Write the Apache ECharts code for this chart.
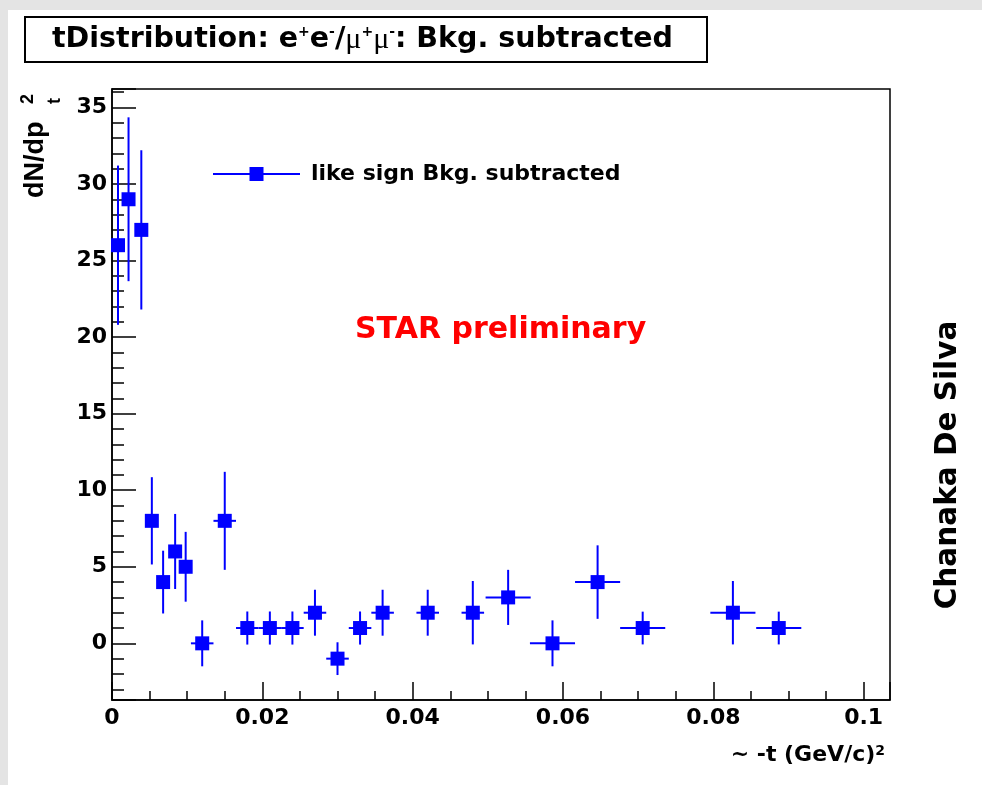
<!DOCTYPE html>
<html><head><meta charset="utf-8">
<script src="https://cdn.jsdelivr.net/npm/echarts@6/dist/echarts.min.js"></script>
<style>html,body{margin:0;padding:0;background:#fff}#c{width:982px;height:785px}</style>
</head><body><div id="c"></div>
<script>
// -t bin centres (GeV/c)^2
const tCenter = [0.0008, 0.0022, 0.0039, 0.0053, 0.0068, 0.0084, 0.0098, 0.012, 0.015, 0.018, 0.021, 0.024,
                 0.027, 0.030, 0.033, 0.036, 0.042, 0.048, 0.0527, 0.0586, 0.0646, 0.0706, 0.0826, 0.0887];
// half bin widths
const tHalfWidth = [0.00075, 0.00075, 0.00075, 0.00075, 0.00075, 0.00075, 0.00075, 0.0015, 0.0015, 0.0015, 0.0015, 0.0015,
                    0.0015, 0.0015, 0.0015, 0.0015, 0.0015, 0.0015, 0.003, 0.003, 0.003, 0.003, 0.003, 0.003];
// dN/dpt^2 values and errors
const dNdpt2 = [26, 29, 27, 8, 4, 6, 5, 0, 8, 1, 1, 1, 2, -1, 1, 2, 2, 2, 3, 0, 4, 1, 2, 1];
const dNdpt2Err = [5.2, 5.35, 5.2, 2.85, 2.05, 2.45, 2.28, 1.5, 3.2, 1.08, 1.08, 1.08, 1.5, 1.07, 1.08, 1.5,
                   1.5, 2.07, 1.8, 1.5, 2.4, 1.07, 2.07, 1.07];
const seriesName = 'like sign Bkg. subtracted';
const xRange = [0, 0.1035];
const yRange = [-3.7, 36.2];

const BLUE = '#0000ff';
const FONT = 'DejaVu Sans';
const chart = echarts.init(document.getElementById('c'), null, {renderer: 'canvas'});

const pointData = tCenter.map((t, i) => [t, dNdpt2[i]]);
const errData = tCenter.map((t, i) => [t, dNdpt2[i], dNdpt2Err[i], tHalfWidth[i]]);

const axisCommon = {
  axisLine: {show: true, onZero: false, lineStyle: {color: '#000', width: 1.5}},
  splitLine: {show: false},
  axisLabel: {color: '#000', fontFamily: FONT, fontWeight: 'bold', fontSize: 22, showMinLabel: true, showMaxLabel: false}
};

chart.setOption({
  animation: false,
  backgroundColor: '#ffffff',
  title: {
    text: 'tDistribution: e{sup|+}e{sup|-}/{mu|μ}{sup|+}{mu|μ}{sup|-}: Bkg. subtracted',
    left: 52, top: 25, padding: 0,
    textStyle: {
      fontFamily: FONT, fontWeight: 'bold', fontSize: 28.5, lineHeight: 30, color: '#000',
      rich: {
        sup: {fontFamily: FONT, fontWeight: 'bold', fontSize: 14, lineHeight: 12, verticalAlign: 'top', color: '#000'},
        mu: {fontFamily: 'Liberation Serif', fontWeight: 'normal', fontSize: 30, lineHeight: 30, color: '#000'}
      }
    }
  },
  legend: {
    left: 208, top: 158,
    itemWidth: 87, itemHeight: 14,
    data: [{name: seriesName, icon: 'path://M0,6H36.5V0H50.5V6H87V8H50.5V14H36.5V8H0Z'}],
    textStyle: {fontFamily: FONT, fontWeight: 'bold', fontSize: 22, color: '#000', padding: [0, 0, 0, 6]},
    selectedMode: false
  },
  grid: {left: 112, top: 89, right: 92, bottom: 85, show: true, borderColor: '#000', borderWidth: 1.5, backgroundColor: 'transparent'},
  xAxis: Object.assign({}, axisCommon, {
    type: 'value', min: xRange[0], max: xRange[1], splitNumber: 5,
    axisTick: {show: true, inside: true, length: 18, lineStyle: {color: '#000', width: 1.5}},
    minorTick: {show: true, splitNumber: 4, length: 9, lineStyle: {color: '#000', width: 1.5}},
    axisLabel: Object.assign({}, axisCommon.axisLabel, {margin: 7})
  }),
  yAxis: Object.assign({}, axisCommon, {
    type: 'value', min: yRange[0], max: yRange[1], splitNumber: 8,
    axisTick: {show: true, inside: true, length: 24, lineStyle: {color: '#000', width: 1.5}},
    minorTick: {show: true, splitNumber: 5, length: 12, lineStyle: {color: '#000', width: 1.5}},
    axisLabel: Object.assign({}, axisCommon.axisLabel, {margin: 5, showMinLabel: false})
  }),
  series: [
    {
      type: 'custom', name: 'errors', silent: true, z: 2,
      data: errData,
      encode: {x: 0, y: 1},
      renderItem: function (params, api) {
        const x = api.value(0), y = api.value(1), ey = api.value(2), ex = api.value(3);
        const c = api.coord([x, y]);
        const top = api.coord([x, y + ey]);
        const bot = api.coord([x, y - ey]);
        const l = api.coord([x - ex, y]);
        const r = api.coord([x + ex, y]);
        const st = {stroke: BLUE, lineWidth: 2};
        return {type: 'group', children: [
          {type: 'line', shape: {x1: c[0], y1: top[1], x2: c[0], y2: bot[1]}, style: st},
          {type: 'line', shape: {x1: l[0], y1: c[1], x2: r[0], y2: c[1]}, style: st}
        ]};
      }
    },
    {
      type: 'scatter', name: seriesName, z: 3, silent: true,
      symbol: 'rect', symbolSize: 14,
      itemStyle: {color: BLUE, opacity: 1},
      data: pointData
    }
  ],
  graphic: [
    {type: 'rect', z: -100, silent: true, shape: {x: 0, y: 0, width: 982, height: 10}, style: {fill: '#e4e4e4'}},
    {type: 'rect', z: -100, silent: true, shape: {x: 0, y: 0, width: 8, height: 785}, style: {fill: '#e4e4e4'}},
    {type: 'rect', z: -50, silent: true, shape: {x: 25, y: 17, width: 682, height: 45}, style: {fill: '#fff', stroke: '#000', lineWidth: 2}},
    {
      type: 'group', x: 45, y: 198, rotation: Math.PI / 2, silent: true,
      children: [
        {type: 'text', x: 0, y: -9, style: {text: 'dN/dp', fontFamily: 'Liberation Sans', fontWeight: 'bold', fontSize: 27, fill: '#000', align: 'left', verticalAlign: 'middle', textAlign: 'left', textVerticalAlign: 'middle'}},
        {type: 'text', x: 94, y: -17, style: {text: '2', fontFamily: 'Liberation Sans', fontWeight: 'bold', fontSize: 18, fill: '#000', align: 'left', verticalAlign: 'middle', textAlign: 'left', textVerticalAlign: 'middle'}},
        {type: 'text', x: 94, y: 10, style: {text: 't', fontFamily: 'Liberation Sans', fontWeight: 'bold', fontSize: 18, fill: '#000', align: 'left', verticalAlign: 'middle', textAlign: 'left', textVerticalAlign: 'middle'}}
      ]
    },
    {
      type: 'text', x: 885, y: 755, silent: true,
      style: {
        text: '~ -t (GeV/c){sup|2}', fontFamily: FONT, fontWeight: 'bold', fontSize: 22, fill: '#000',
        align: 'right', verticalAlign: 'middle', textAlign: 'right', textVerticalAlign: 'middle',
        rich: {sup: {fontFamily: FONT, fontWeight: 'bold', fontSize: 14, verticalAlign: 'top', lineHeight: 12}}
      }
    },
    {
      type: 'text', x: 355, y: 330, silent: true,
      style: {text: 'STAR preliminary', fontFamily: FONT, fontWeight: 'bold', fontSize: 30, fill: '#ff0000', align: 'left', verticalAlign: 'middle', textAlign: 'left', textVerticalAlign: 'middle'}
    },
    {
      type: 'text', x: 948, y: 465, rotation: Math.PI / 2, silent: true,
      style: {text: 'Chanaka De Silva', fontFamily: FONT, fontWeight: 'bold', fontSize: 29.5, fill: '#000', align: 'center', verticalAlign: 'middle', textAlign: 'center', textVerticalAlign: 'middle'}
    }
  ]
});
</script>
</body></html>
